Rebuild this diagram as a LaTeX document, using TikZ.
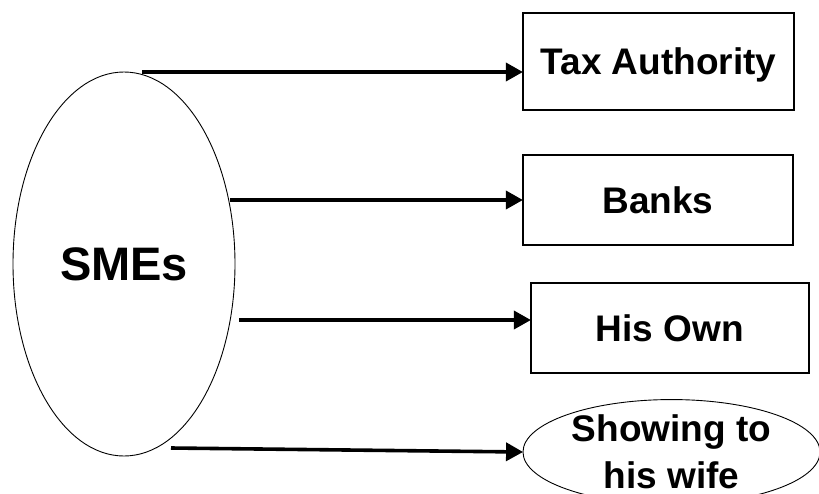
\documentclass[tikz,border=0pt]{standalone}
\usepackage{fontspec}
\setmainfont{Liberation Sans}
\usetikzlibrary{shapes.geometric,arrows.meta}
\tikzset{
  boxnode/.style={draw=black, line width=1.2pt, rectangle, inner sep=0pt,
    font=\fontsize{37}{44}\selectfont\bfseries, text height=26.5pt, text depth=0pt},
  ovalnode/.style={draw=black, line width=0.9pt, ellipse, inner sep=0pt},
  arr/.style={line width=3.6pt, -{Triangle[length=17pt,width=18pt]}, shorten >=-0.5pt},
}
\begin{document}
\begin{tikzpicture}[x=1pt,y=-1pt]
\useasboundingbox (0,0) rectangle (819,493);
% SMEs ellipse
\node[ovalnode, minimum width=222pt, minimum height=384pt,
  font=\fontsize{47}{56}\selectfont\bfseries, text height=33.6pt, text depth=0pt]
  (sme) at (124,264) {SMEs};
% target boxes
\node[boxnode, minimum width=271pt, minimum height=97pt] (tax) at (658.5,61.5) {Tax Authority};
\node[boxnode, minimum width=270pt, minimum height=90pt] (banks) at (658,200) {Banks};
\node[boxnode, minimum width=278pt, minimum height=90pt] (own) at (670,328) {His Own};
\node[ovalnode, minimum width=297pt, minimum height=98pt, align=center,
  font=\fontsize{37}{47}\selectfont\bfseries] (wife) at (671.5,452) {Showing to\\his wife};
% start points of connectors
\coordinate (s1) at (142,72);
\coordinate (s2) at (230,200);
\coordinate (s3) at (239,320);
\coordinate (s4) at (171,448);
% connectors
\draw[arr] (s1) -- (s1 -| tax.west);
\draw[arr] (s2) -- (s2 -| banks.west);
\draw[arr] (s3) -- (s3 -| own.west);
\draw[arr] (s4) -- (wife.west);
\end{tikzpicture}
\end{document}
